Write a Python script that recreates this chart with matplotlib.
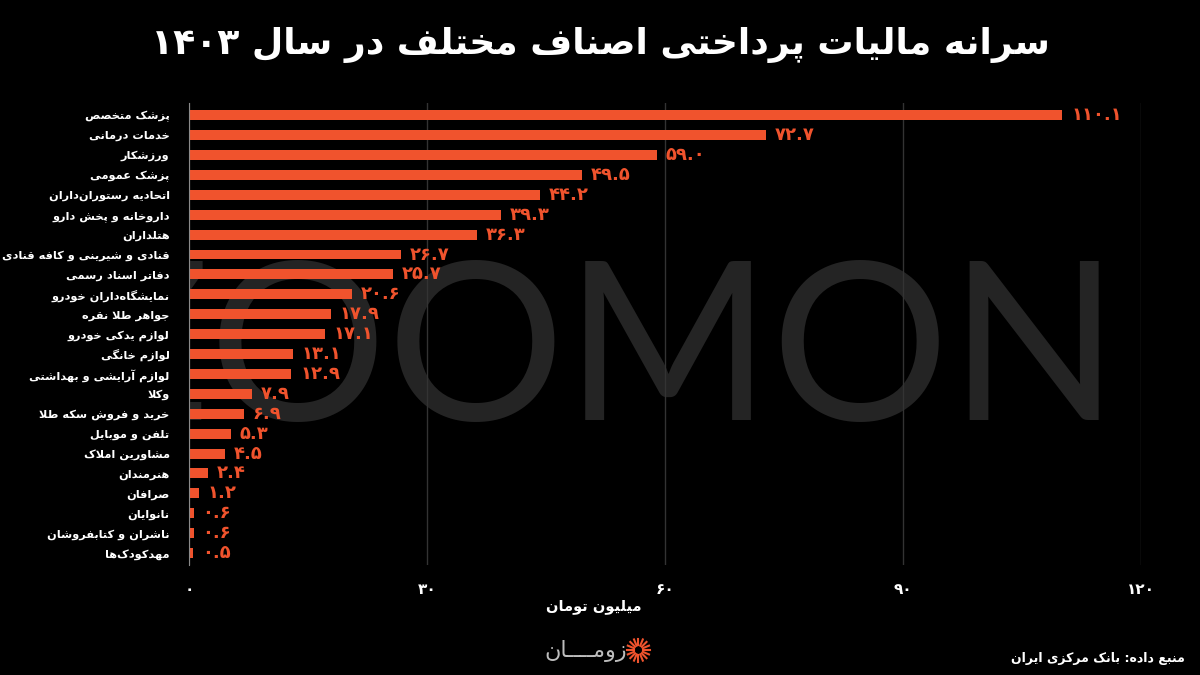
import re
import numpy as np
import matplotlib
matplotlib.use('Agg')
import matplotlib.pyplot as plt

# data, top to bottom
categories = ['پزشک متخصص', 'خدمات درمانی', 'ورزشکار', 'پزشک عمومی',
              'اتحادیه رستوران\u200cداران', 'داروخانه و پخش دارو', 'هتلداران',
              'قنادی و شیرینی و کافه قنادی', 'دفاتر اسناد رسمی',
              'نمایشگاه\u200cداران خودرو', 'جواهر طلا نقره', 'لوازم یدکی خودرو',
              'لوازم خانگی', 'لوازم آرایشی و بهداشتی', 'وکلا',
              'خرید و فروش سکه طلا', 'تلفن و موبایل', 'مشاورین املاک',
              'هنرمندان', 'صرافان', 'نانوایان', 'ناشران و کتابفروشان',
              'مهدکودک\u200cها']
values = [110.1, 72.7, 59.0, 49.5, 44.2, 39.3, 36.3, 26.7, 25.7, 20.6, 17.9,
          17.1, 13.1, 12.9, 7.9, 6.9, 5.3, 4.5, 2.4, 1.2, 0.6, 0.6, 0.5]
xticks = [0, 30, 60, 90, 120]

title = 'سرانه مالیات پرداختی اصناف مختلف در سال ۱۴۰۳'
xlabel = 'میلیون تومان'
source = 'منبع داده: بانک مرکزی ایران'
brand = 'زومــــان'

BAR = '#f0532d'
BG = 'black'

# --- crude persian shaping (matplotlib has no arabic shaping) ---
FORMS = {
    'ا': ('\uFE8D', '\uFE8E', None, None),
    'آ': ('\uFE81', '\uFE82', None, None),
    'ب': ('\uFE8F', '\uFE90', '\uFE91', '\uFE92'),
    'پ': ('\uFB56', '\uFB57', '\uFB58', '\uFB59'),
    'ت': ('\uFE95', '\uFE96', '\uFE97', '\uFE98'),
    'ث': ('\uFE99', '\uFE9A', '\uFE9B', '\uFE9C'),
    'ج': ('\uFE9D', '\uFE9E', '\uFE9F', '\uFEA0'),
    'چ': ('\uFB7A', '\uFB7B', '\uFB7C', '\uFB7D'),
    'ح': ('\uFEA1', '\uFEA2', '\uFEA3', '\uFEA4'),
    'خ': ('\uFEA5', '\uFEA6', '\uFEA7', '\uFEA8'),
    'د': ('\uFEA9', '\uFEAA', None, None),
    'ذ': ('\uFEAB', '\uFEAC', None, None),
    'ر': ('\uFEAD', '\uFEAE', None, None),
    'ز': ('\uFEAF', '\uFEB0', None, None),
    'ژ': ('\uFB8A', '\uFB8B', None, None),
    'س': ('\uFEB1', '\uFEB2', '\uFEB3', '\uFEB4'),
    'ش': ('\uFEB5', '\uFEB6', '\uFEB7', '\uFEB8'),
    'ص': ('\uFEB9', '\uFEBA', '\uFEBB', '\uFEBC'),
    'ض': ('\uFEBD', '\uFEBE', '\uFEBF', '\uFEC0'),
    'ط': ('\uFEC1', '\uFEC2', '\uFEC3', '\uFEC4'),
    'ظ': ('\uFEC5', '\uFEC6', '\uFEC7', '\uFEC8'),
    'ع': ('\uFEC9', '\uFECA', '\uFECB', '\uFECC'),
    'غ': ('\uFECD', '\uFECE', '\uFECF', '\uFED0'),
    'ف': ('\uFED1', '\uFED2', '\uFED3', '\uFED4'),
    'ق': ('\uFED5', '\uFED6', '\uFED7', '\uFED8'),
    'ک': ('\uFB8E', '\uFB8F', '\uFB90', '\uFB91'),
    'گ': ('\uFB92', '\uFB93', '\uFB94', '\uFB95'),
    'ل': ('\uFEDD', '\uFEDE', '\uFEDF', '\uFEE0'),
    'م': ('\uFEE1', '\uFEE2', '\uFEE3', '\uFEE4'),
    'ن': ('\uFEE5', '\uFEE6', '\uFEE7', '\uFEE8'),
    'و': ('\uFEED', '\uFEEE', None, None),
    'ه': ('\uFEE9', '\uFEEA', '\uFEEB', '\uFEEC'),
    'ی': ('\uFBFC', '\uFBFD', '\uFBFE', '\uFBFF'),
    'ـ': ('ـ', 'ـ', 'ـ', 'ـ'),
}
LAMALEF = {'ا': ('\uFEFB', '\uFEFC'), 'آ': ('\uFEF5', '\uFEF6')}


def shape(text):
    out = []
    i = 0
    n = len(text)
    while i < n:
        c = text[i]
        if c not in FORMS:
            if c != '\u200c':
                out.append(c)
            i += 1
            continue
        prev = text[i - 1] if i > 0 else None
        jp = prev in FORMS and FORMS[prev][2] is not None
        if c == 'ل' and i + 1 < n and text[i + 1] in LAMALEF:
            out.append(LAMALEF[text[i + 1]][1 if jp else 0])
            i += 2
            continue
        nxt = text[i + 1] if i + 1 < n else None
        jn = FORMS[c][2] is not None and nxt in FORMS
        iso, fin, ini, med = FORMS[c]
        if jp and jn:
            out.append(med)
        elif jp:
            out.append(fin)
        elif jn:
            out.append(ini)
        else:
            out.append(iso)
        i += 1
    return ''.join(out)


def fa(text):
    s = shape(text)
    runs = re.findall(r'[\u06F0-\u06F90-9.]+|[^\u06F0-\u06F90-9.]+', s)
    return ''.join(r if re.match(r'[\u06F0-\u06F90-9]', r) else r[::-1]
                   for r in reversed(runs))


def fa_num(v, fmt='{:.1f}'):
    return fmt.format(v).translate(str.maketrans('0123456789', '۰۱۲۳۴۵۶۷۸۹'))


plt.rcParams['font.family'] = ['DejaVu Sans']

fig = plt.figure(figsize=(12, 6.75), dpi=100, facecolor=BG)
ax = fig.add_axes([0.1575, 0.163, 0.7933, 0.684])
ax.patch.set_alpha(0)

# watermark, only visible inside the plot area
ax.text(0.4975, 0.378, 'ZOOMON', color='#242424', fontsize=160,
        family='Lato', ha='center', va='baseline', zorder=0.5,
        transform=fig.transFigure, clip_on=True)

y = np.arange(len(values))
ax.barh(y, values, height=0.5, color=BAR, zorder=3)
for yi, v in zip(y, values):
    ax.text(v + 1.1, yi, fa_num(v), color=BAR, fontsize=13, fontweight='bold',
            va='center', ha='left', zorder=4)

ax.set_xlim(0, 120)
ax.set_ylim(len(values) - 0.4, -0.6)
ax.set_yticks(y)
ax.set_yticklabels([fa(c) for c in categories], color='white', fontsize=8.2,
                   fontweight='bold')
ax.set_xticks(xticks)
ax.set_xticklabels([fa_num(t, '{:d}') for t in xticks], color='white',
                   fontsize=11, fontweight='bold')
ax.tick_params(length=0, pad=12)
ax.tick_params(axis='y', pad=14)
ax.grid(axis='x', color='#333333', lw=1, zorder=1)
ax.set_axisbelow(False)
for s in ['top', 'right', 'bottom']:
    ax.spines[s].set_visible(False)
ax.spines['left'].set_color('#8a8a8a')
ax.spines['left'].set_zorder(5)

fig.text(0.495, 0.101, fa(xlabel), color='white', fontsize=10.5,
         fontweight='bold', ha='center', va='center')

fig.text(0.5, 0.933, fa(title), color='white', fontsize=26,
         fontweight='bold', ha='center', va='center')

# source + brand
fig.text(0.987, 0.015, fa(source), color='white', fontsize=9,
         fontweight='bold', ha='right', va='bottom')
fig.text(0.488, 0.036, fa(brand), color='#bdbdbd', fontsize=16,
         ha='center', va='center')
cx, cy, r0, r1 = 0.532, 0.037, 0.007, 0.017
ang = np.linspace(0, 2 * np.pi, 16, endpoint=False)
for a in ang:
    fig.add_artist(plt.Line2D([cx + r0 * np.cos(a) * 0.5625, cx + r1 * np.cos(a) * 0.5625],
                              [cy + r0 * np.sin(a), cy + r1 * np.sin(a)],
                              color=BAR, lw=1.5, transform=fig.transFigure))

fig.savefig('out.png', dpi=100, facecolor=BG)
